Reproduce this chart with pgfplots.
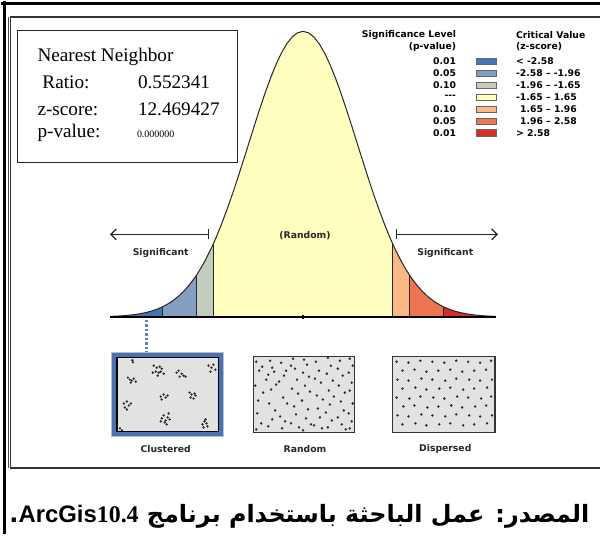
\documentclass[border=0pt]{standalone}
\usepackage{fontspec}
\usepackage{pgfplots}
\pgfplotsset{compat=1.18}
\usepackage{pgfplotstable}
\usetikzlibrary{arrows.meta}
\TeXXeTstate=1
\setmainfont{Liberation Serif}
\newfontfamily\verd{DejaVu Sans}
\newfontfamily\arabicfont[Script=Arabic]{DejaVu Sans}
\newfontfamily\arial{Liberation Sans}

\definecolor{cA}{RGB}{69,117,181}
\definecolor{cB}{RGB}{132,158,194}
\definecolor{cC}{RGB}{194,205,192}
\definecolor{cD}{RGB}{255,255,191}
\definecolor{cE}{RGB}{250,185,132}
\definecolor{cF}{RGB}{237,117,82}
\definecolor{cG}{RGB}{214,47,39}
\definecolor{frameblue}{RGB}{74,114,178}
\definecolor{dotblue}{RGB}{100,130,185}
\definecolor{boxgrey}{RGB}{226,226,226}

% relative normal density, d = exp(-z^2/2)
\pgfplotstableread{
z d
-3.53 0.00197
-3.4 0.00309
-3.3 0.00432
-3.2 0.00598
-3.1 0.00819
-3.0 0.01111
-2.9 0.01492
-2.8 0.01984
-2.7 0.02612
-2.6 0.03405
-2.58 0.03587
-2.5 0.04394
-2.4 0.05613
-2.3 0.07100
-2.2 0.08892
-2.1 0.11025
-2.0 0.13534
-1.96 0.14649
-1.9 0.16447
-1.8 0.19790
-1.7 0.23575
-1.65 0.25635
-1.6 0.27804
-1.5 0.32465
-1.4 0.37531
-1.3 0.42956
-1.2 0.48675
-1.1 0.54607
-1.0 0.60653
-0.9 0.66698
-0.8 0.72615
-0.7 0.78270
-0.6 0.83527
-0.5 0.88250
-0.4 0.92312
-0.3 0.95600
-0.2 0.98020
-0.1 0.99501
0 1
0.1 0.99501
0.2 0.98020
0.3 0.95600
0.4 0.92312
0.5 0.88250
0.6 0.83527
0.7 0.78270
0.8 0.72615
0.9 0.66698
1.0 0.60653
1.1 0.54607
1.2 0.48675
1.3 0.42956
1.4 0.37531
1.5 0.32465
1.6 0.27804
1.65 0.25635
1.7 0.23575
1.8 0.19790
1.9 0.16447
1.96 0.14649
2.0 0.13534
2.1 0.11025
2.2 0.08892
2.3 0.07100
2.4 0.05613
2.5 0.04394
2.58 0.03587
2.6 0.03405
2.7 0.02612
2.8 0.01984
2.9 0.01492
3.0 0.01111
3.1 0.00819
3.2 0.00598
3.3 0.00432
3.4 0.00309
3.53 0.00197
}\curve

\begin{document}
\begin{tikzpicture}
% the curve, in z units
\begin{axis}[at={(0,0)}, anchor=south west, scale only axis,
    width=601pt, height=535pt,
    xmin=-5.5495, xmax=5.4579, ymin=-0.75958, ymax=1.10453,
    hide axis, clip=false]
\addplot[fill=cA, draw=none, restrict x to domain=-3.54:-2.575] table {\curve} \closedcycle;
\addplot[fill=cB, draw=none, restrict x to domain=-2.585:-1.955] table {\curve} \closedcycle;
\addplot[fill=cC, draw=none, restrict x to domain=-1.965:-1.645] table {\curve} \closedcycle;
\addplot[fill=cD, draw=none, restrict x to domain=-1.655:1.655] table {\curve} \closedcycle;
\addplot[fill=cE, draw=none, restrict x to domain=1.645:1.965] table {\curve} \closedcycle;
\addplot[fill=cF, draw=none, restrict x to domain=1.955:2.585] table {\curve} \closedcycle;
\addplot[fill=cG, draw=none, restrict x to domain=2.575:3.54] table {\curve} \closedcycle;
\addplot[black!85, line width=0.8pt] coordinates {(-2.58,0) (-2.58,0.03587)};
\addplot[black!85, line width=0.8pt] coordinates {(-1.96,0) (-1.96,0.14649)};
\addplot[black!85, line width=0.8pt] coordinates {(-1.65,0) (-1.65,0.25635)};
\addplot[black!85, line width=0.8pt] coordinates {(1.65,0) (1.65,0.25635)};
\addplot[black!85, line width=0.8pt] coordinates {(1.96,0) (1.96,0.14649)};
\addplot[black!85, line width=0.8pt] coordinates {(2.58,0) (2.58,0.03587)};
\addplot[black!85, line width=1pt] table {\curve};
\addplot[black, line width=1.4pt] coordinates {(-3.55,0) (3.55,0)};
\addplot[black, line width=1.2pt] coordinates {(0,-0.006) (0,0.008)};
\end{axis}

% everything else, in pixel units of the reference
\begin{axis}[at={(0,0)}, anchor=south west, scale only axis,
    width=601pt, height=535pt,
    xmin=0, xmax=601, ymin=0, ymax=535, y dir=reverse,
    hide axis, clip=false]
\path (axis cs:0,0) rectangle (axis cs:601,535);
% frames
\draw[black, line width=3pt] (axis cs:0,2) -- (axis cs:601,2);
\draw[black, line width=3pt] (axis cs:3,0) -- (axis cs:3,535);
\draw[black!80, line width=1.6pt] (axis cs:601,15.5) -- (axis cs:9,15.5) -- (axis cs:9,469) -- (axis cs:601,469);
\draw[black!70, line width=0.6pt] (axis cs:6.5,15.5) -- (axis cs:6.5,469);

% statistics box
\draw[black!85, line width=1pt] (axis cs:16,29) rectangle (axis cs:237,162);
\begin{scope}[every node/.style={font=\fontsize{19.3}{21}\selectfont, inner sep=0pt}]
\node[anchor=base west] at (axis cs:36,60) {Nearest Neighbor};
\node[anchor=base west] at (axis cs:41,87.5) {Ratio:};
\node[anchor=base west] at (axis cs:137,87.5) {0.552341};
\node[anchor=base west] at (axis cs:36,115) {z-score:};
\node[anchor=base west] at (axis cs:137,115) {12.469427};
\node[anchor=base west] at (axis cs:36,137) {p-value:};
\end{scope}
\node[anchor=base west, inner sep=0pt, font=\fontsize{10}{12}\selectfont] at (axis cs:136,137) {0.000000};

% legend
\begin{scope}[every node/.style={font=\verd\bfseries\fontsize{9.3}{10}\selectfont, inner sep=0pt}]
\node[anchor=east] at (axis cs:457,34) {Significance Level};
\node[anchor=east] at (axis cs:457,45.5) {(p-value)};
\node[anchor=west] at (axis cs:517,34) {Critical Value};
\node[anchor=west] at (axis cs:517,45.5) {(z-score)};
\node[anchor=east] at (axis cs:457,60) {0.01};
\node[anchor=east] at (axis cs:457,72) {0.05};
\node[anchor=east] at (axis cs:457,84) {0.10};
\node[anchor=east] at (axis cs:457,96) {---};
\node[anchor=east] at (axis cs:457,108) {0.10};
\node[anchor=east] at (axis cs:457,120) {0.05};
\node[anchor=east] at (axis cs:457,132) {0.01};
\node[anchor=west] at (axis cs:517,60) {< -2.58};
\node[anchor=west] at (axis cs:517,72) {-2.58 – -1.96};
\node[anchor=west] at (axis cs:517,84) {-1.96 – -1.65};
\node[anchor=west] at (axis cs:517,96) {-1.65 – 1.65};
\node[anchor=west] at (axis cs:521,108) {1.65 – 1.96};
\node[anchor=west] at (axis cs:521,120) {1.96 – 2.58};
\node[anchor=west] at (axis cs:517,132) {> 2.58};
\end{scope}
\draw[draw=black!60, line width=0.8pt, fill=cA] (axis cs:477,57) rectangle (axis cs:497,63.5);
\draw[draw=black!60, line width=0.8pt, fill=cB] (axis cs:477,69) rectangle (axis cs:497,75.5);
\draw[draw=black!60, line width=0.8pt, fill=cC] (axis cs:477,81) rectangle (axis cs:497,87.5);
\draw[draw=black!60, line width=0.8pt, fill=cD] (axis cs:477,93) rectangle (axis cs:497,99.5);
\draw[draw=black!60, line width=0.8pt, fill=cE] (axis cs:477,105) rectangle (axis cs:497,111.5);
\draw[draw=black!60, line width=0.8pt, fill=cF] (axis cs:477,117) rectangle (axis cs:497,123.5);
\draw[draw=black!60, line width=0.8pt, fill=cG] (axis cs:477,129) rectangle (axis cs:497,135.5);

% arrows and labels around the curve
\draw[black!85, line width=1.3pt, -{Straight Barb[length=5.5pt,width=11pt]}] (axis cs:208,234) -- (axis cs:109,234);
\draw[black!85, line width=1.3pt] (axis cs:208,229) -- (axis cs:208,239);
\draw[black!85, line width=1.3pt, -{Straight Barb[length=5.5pt,width=11pt]}] (axis cs:397,234) -- (axis cs:499,234);
\draw[black!85, line width=1.3pt] (axis cs:397,229) -- (axis cs:397,239);
\begin{scope}[every node/.style={font=\verd\bfseries\fontsize{9.3}{10}\selectfont, inner sep=0pt, text=black!85}]
\node at (axis cs:160,253) {Significant};
\node at (axis cs:446,253) {Significant};
\node at (axis cs:305,235.5) {(Random)};
\node at (axis cs:165,450) {Clustered};
\node at (axis cs:305,450) {Random};
\node at (axis cs:446,450) {Dispersed};
\end{scope}

% dotted pointer to the clustered pattern
\draw[dotblue, line width=3pt, dash pattern=on 2.5pt off 2pt] (axis cs:146,320) -- (axis cs:146,352);

% pattern boxes
\fill[black!25] (axis cs:110,352) rectangle (axis cs:224,438);
\fill[frameblue] (axis cs:111,353) rectangle (axis cs:223,437);
\draw[black, line width=1.2pt, fill=boxgrey] (axis cs:116,358) rectangle (axis cs:218,432);
\draw[black!80, line width=1.3pt, fill=boxgrey] (axis cs:253,357) rectangle (axis cs:355,433);
\draw[black!80, line width=1.3pt, fill=boxgrey] (axis cs:393,357) rectangle (axis cs:496,433);

% clustered points
\addplot[only marks, mark=*, mark size=0.95pt, black!85] coordinates {
(131.5,360.5) (132,362.5)
(127,378) (129,380) (131,381) (133,379) (130,383) (135,382)
(153,366) (156,368) (159,367) (161,369) (155,372) (158,373) (160,372) (163,374) (152,373) (157,376)
(176,373) (178,371) (181,374) (183,376) (179,377) (185,377)
(208,366) (211,368) (213,365) (210,372) (215,370)
(160,397) (163,395) (165,398) (161,400) (167,396)
(189,393) (191,395) (194,394) (190,398) (193,399) (195,396)
(123,404) (126,402) (128,406) (124,408) (130,404) (126,410)
(161,419) (163,416) (165,421) (167,418) (169,420) (164,423) (160,422) (168,414) (166,425)
(202,425) (204,422) (206,424) (203,428) (207,427) (205,420)
(119,429) (121,431)
};
% random points
\addplot[only marks, mark=*, mark size=1pt, black!85] coordinates {
(256,362) (259,371) (255,386) (262,367) (266,380) (263,393) (258,401) (257,414) (261,424) (256,430)
(270,361) (272,368) (268,375) (274,372) (271,390) (276,385) (269,404) (275,411) (272,420) (268,427)
(281,363) (284,376) (279,382) (286,371) (283,398) (287,404) (280,417) (285,422) (282,429)
(293,359) (291,366) (295,369) (297,380) (292,389) (298,394) (294,407) (296,415) (291,424) (299,428)
(304,360) (307,365) (303,373) (309,377) (305,386) (310,392) (302,401) (308,410) (306,419) (311,425) (303,431)
(316,362) (319,371) (315,379) (321,383) (317,396) (323,400) (318,409) (320,418) (314,426) (322,429)
(328,358) (331,366) (327,374) (333,381) (329,391) (334,397) (330,405) (326,413) (332,421) (328,428)
(340,361) (338,369) (343,376) (339,386) (345,393) (341,402) (344,411) (338,418) (342,425) (346,430)
(350,359) (353,366) (349,373) (352,383) (350,391) (353,404) (349,414) (352,422) (350,429)
};
% dispersed points
\addplot[only marks, mark=*, mark size=1pt, black!85] coordinates {
(397,362) (409,363) (421,361) (433,362) (445,363) (457,361) (469,362) (481,363) (492,361)
(403,371) (415,370) (427,372) (439,371) (451,370) (463,372) (475,371) (487,370)
(398,380) (409,381) (422,379) (433,380) (446,381) (457,379) (470,380) (481,381) (493,380)
(403,389) (416,388) (427,390) (440,389) (451,388) (464,390) (475,389) (488,388)
(397,398) (410,399) (421,397) (434,398) (445,399) (458,397) (469,398) (482,399) (492,397)
(404,407) (415,406) (428,408) (439,407) (452,406) (463,408) (476,407) (487,406)
(398,416) (409,417) (422,415) (433,416) (446,417) (457,415) (470,416) (481,417) (493,416)
(403,425) (416,424) (427,426) (440,425) (451,424) (464,426) (475,425) (488,424)
};

% caption
\node[anchor=base east, inner sep=0pt, font=\arabicfont\bfseries\fontsize{24}{27}\selectfont]
  at (axis cs:591,524) {\beginR المصدر: عمل الباحثة باستخدام برنامج \beginL{\arial ArcGis}{\rmfamily 10.4}\endL.\endR};
\end{axis}
\end{tikzpicture}
\end{document}
